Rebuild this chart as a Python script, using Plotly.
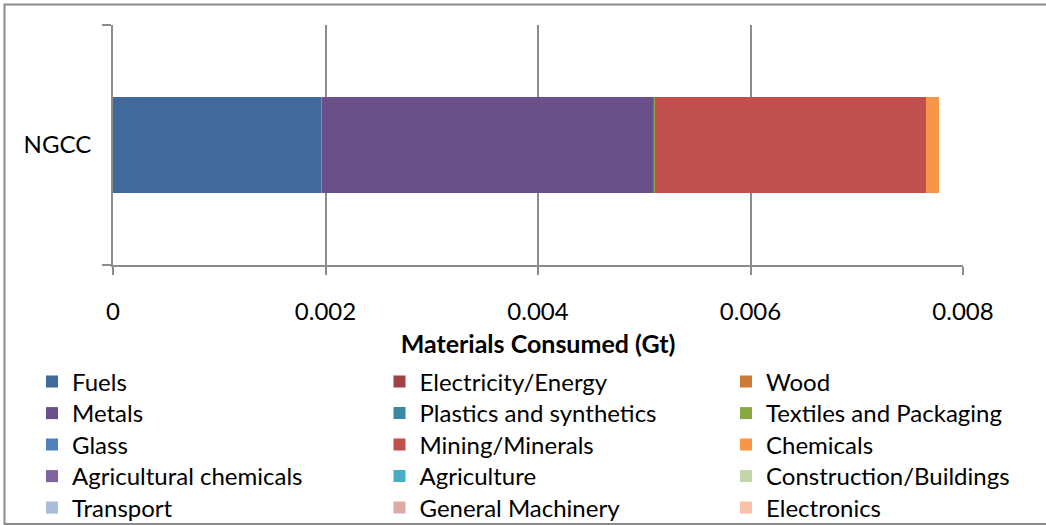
import plotly.graph_objects as go

# Material categories (stack order) and their consumption for the NGCC case, in Gt
categories = [
    "Fuels", "Electricity/Energy", "Wood",
    "Metals", "Plastics and synthetics", "Textiles and Packaging",
    "Glass", "Mining/Minerals", "Chemicals",
    "Agricultural chemicals", "Agriculture", "Construction/Buildings",
    "Transport", "General Machinery", "Electronics",
]
values_gt = [
    0.00196, 0.0, 0.000005,
    0.003124, 0.00001, 0.000006,
    0.0, 0.002547, 0.000125,
    0.0, 0.0, 0.0,
    0.0, 0.0, 0.0,
]
colors = [
    "#41699B", "#A0423F", "#CC7B39",
    "#6A5088", "#3B89A0", "#89A845",
    "#4F81BD", "#C0504D", "#F79646",
    "#8064A2", "#4BACC6", "#C3D5A9",
    "#A9BDDB", "#DDA9A9", "#F9C1A8",
]
plant = ["NGCC"]
x_ticks = [0, 0.002, 0.004, 0.006, 0.008]
x_tick_text = ["0", "0.002", "0.004", "0.006", "0.008"]

FONT = "Lato"
AXIS_GREY = "#8C8C8C"
W, H = 1046, 525

# Legend grid: three columns, filled row by row
col_text_px = [73, 420.5, 767]
row_center_px = [382, 413.5, 445, 476.5, 508]

fig = go.Figure()
legends = {}
for i, (name, val, col) in enumerate(zip(categories, values_gt, colors)):
    key = "legend" if i == 0 else f"legend{i + 1}"
    fig.add_trace(go.Bar(
        x=[val], y=plant, name=name, orientation="h",
        marker=dict(color=col, line=dict(width=0)),
        width=0.4,
        legend=key, showlegend=True,
    ))
    r, c = divmod(i, 3)
    legends[key] = dict(
        orientation="v", xref="container", yref="container",
        xanchor="left", yanchor="top",
        x=(col_text_px[c] - 41) / W,
        y=1 - (row_center_px[r] - 22.5) / H,
        font=dict(family=FONT, size=24, color="#000000"),
        bgcolor="rgba(0,0,0,0)", borderwidth=0,
        itemclick=False, itemdoubleclick=False,
    )

fig.update_layout(
    width=W, height=H,
    showlegend=True,
    margin=dict(l=113, r=83, t=25, b=260, pad=0, autoexpand=False),
    paper_bgcolor="white", plot_bgcolor="white",
    barmode="stack",
    font=dict(family=FONT, size=24, color="#000000"),
    xaxis=dict(
        range=[0, 0.008], tickvals=x_ticks, ticktext=x_tick_text,
        showgrid=True, gridcolor=AXIS_GREY, gridwidth=2,
        zeroline=False,
        showline=True, linecolor=AXIS_GREY, linewidth=2,
        ticks="outside", ticklen=8, tickwidth=2, tickcolor=AXIS_GREY,
        tickfont=dict(family=FONT, size=24, color="#000000"),
        ticklabelstandoff=16,
        title=dict(text="<b>Materials Consumed (Gt)</b>", standoff=12,
                   font=dict(family=FONT, size=25, color="#000000")),
    ),
    yaxis=dict(
        type="category", range=[-0.5, 0.5],
        showgrid=False, zeroline=False,
        showline=True, linecolor=AXIS_GREY, linewidth=2,
        ticks="outside", tickson="boundaries", ticklen=9, tickwidth=2,
        tickcolor=AXIS_GREY,
        tickfont=dict(family=FONT, size=24, color="#000000"),
        ticklabelstandoff=15,
    ),
    shapes=[dict(
        type="rect", xref="paper", yref="paper",
        x0=(4.5 - 113) / 850, x1=(1050 - 113) / 850,
        y0=(265 - 524) / 240, y1=(265 - 4.5) / 240,
        line=dict(color=AXIS_GREY, width=2), fillcolor="rgba(0,0,0,0)",
        layer="below",
    )],
    **legends,
)

fig.write_html("out.html")
